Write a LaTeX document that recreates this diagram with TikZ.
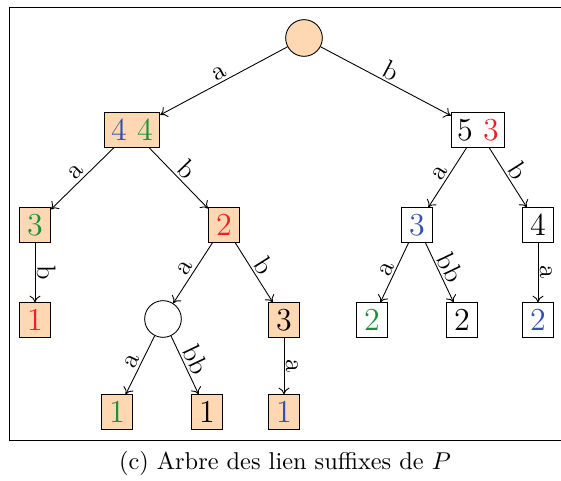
\documentclass[tikz,border=0pt]{standalone}
\usetikzlibrary{arrows.meta}
\definecolor{peach}{RGB}{253,216,178}
\definecolor{myblue}{RGB}{50,80,175}
\definecolor{mygreen}{RGB}{25,145,60}
\definecolor{myred}{RGB}{240,30,40}
\begin{document}
\begin{tikzpicture}[x=0.45pt,y=-0.45pt,
  box/.style={draw,rectangle,minimum width=14pt,minimum height=15.5pt,inner sep=2pt,font=\Large},
  obox/.style={box,fill=peach},
  circ/.style={draw,circle,minimum size=16.5pt,inner sep=0pt},
  edge/.style={->,>={To[length=3pt,width=5pt]}},
  lab/.style={midway,sloped,above,font=\large,inner sep=1pt}]
\path[use as bounding box] (0,0) rectangle (561,481);
\draw (561,7) -- (9,7) -- (9,440) -- (561,440);
% nodes
\node[circ,fill=peach] (r) at (304,38) {};
\node[obox,minimum width=25pt] (n44) at (132,130) {\textcolor{myblue}{4}~\textcolor{mygreen}{4}};
\node[box,minimum width=24pt] (n53) at (478,130) {5~\textcolor{myred}{3}};
\node[obox] (a3) at (35,225) {\textcolor{mygreen}{3}};
\node[obox] (a2) at (224,225) {\textcolor{myred}{2}};
\node[box] (b3) at (417,225) {\textcolor{myblue}{3}};
\node[box] (b4) at (538,225) {4};
\node[obox] (a1) at (35,320) {\textcolor{myred}{1}};
\node[circ] (c) at (163,319) {};
\node[obox] (o3) at (284,320) {3};
\node[box] (g2) at (372,320) {\textcolor{mygreen}{2}};
\node[box] (k2) at (462,320) {2};
\node[box] (u2) at (538,320) {\textcolor{myblue}{2}};
\node[obox] (g1) at (117,412) {\textcolor{mygreen}{1}};
\node[obox] (k1) at (207,412) {1};
\node[obox] (u1) at (284,412) {\textcolor{myblue}{1}};
\node[font=\fontsize{10.95}{13.6}\selectfont] (cap) at (285,463) {(c) Arbre des lien suffixes de $P$};
% edges
\draw[edge] (r) -- node[lab] {a} (n44);
\draw[edge] (r) -- node[lab] {b} (n53);
\draw[edge] (n44) -- node[lab] {a} (a3);
\draw[edge] (n44) -- node[lab] {b} (a2);
\draw[edge] (a3) -- node[lab] {b} (a1);
\draw[edge] (a2) -- node[lab] {a} (c);
\draw[edge] (a2) -- node[lab] {b} (o3);
\draw[edge] (c) -- node[lab] {a} (g1);
\draw[edge] (c) -- node[lab] {bb} (k1);
\draw[edge] (o3) -- node[lab] {a} (u1);
\draw[edge] (n53) -- node[lab] {a} (b3);
\draw[edge] (n53) -- node[lab] {b} (b4);
\draw[edge] (b3) -- node[lab] {a} (g2);
\draw[edge] (b3) -- node[lab] {bb} (k2);
\draw[edge] (b4) -- node[lab] {a} (u2);
\end{tikzpicture}
\end{document}
